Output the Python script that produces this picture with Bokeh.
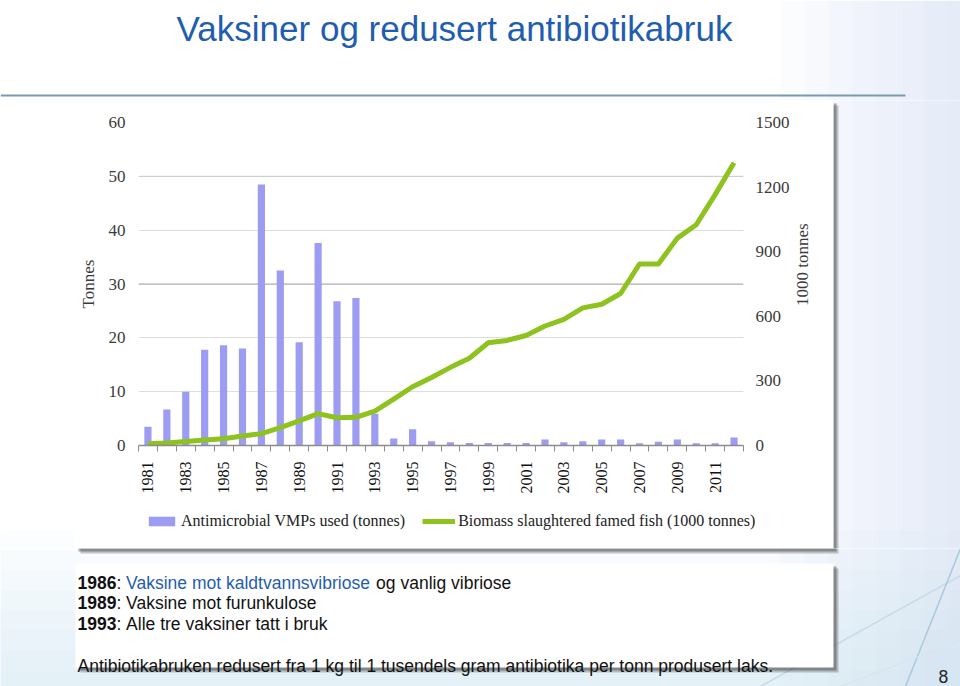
from math import pi
from bokeh.plotting import figure
from bokeh.layouts import column, row
from bokeh.models import (Range1d, LinearAxis, FixedTicker, Legend, LegendItem, Grid, Span)
from bokeh.core.properties import value
from bokeh.embed import file_html
from bokeh.resources import INLINE

# ---------------- data ----------------
years = list(range(1981, 2013))
vmp_tonnes = [3.5, 6.7, 10.0, 17.8, 18.6, 18.0, 48.5, 32.5, 19.2, 37.6, 26.8, 27.4, 5.9,
              1.3, 3.0, 0.8, 0.6, 0.45, 0.45, 0.45, 0.45, 1.1, 0.6, 0.8, 1.1, 1.1,
              0.4, 0.7, 1.1, 0.4, 0.4, 1.5]
biomass_kt = [8, 12, 19, 25, 31, 44, 55, 83, 114, 148, 129, 131, 160, 215, 273, 316,
              363, 405, 477, 488, 511, 555, 586, 639, 656, 706, 843, 843, 963, 1025,
              1165, 1313]
left_ticks = [0, 10, 20, 30, 40, 50, 60]
right_ticks = [0, 300, 600, 900, 1200, 1500]
year_ticks = list(range(1981, 2012, 2))
year_bounds = [y - 0.5 for y in years] + [years[-1] + 0.5]

title_text = "Vaksiner og redusert antibiotikabruk"
bar_label = "Antimicrobial VMPs used (tonnes)"
line_label = "Biomass slaughtered famed fish (1000 tonnes)"
right_title = "1000 tonnes"

# ---------------- styling / layout ----------------
W, H = 960, 686
CARD_L, CARD_T, CARD_R, CARD_B = 75, 100, 833, 548
LEG_T = 500
SPLIT = 792
FL, FR, FT, FB = 137, 743, 122, 445
SANS = "Liberation Sans"
SERIF = "Liberation Serif"
BLUE = "#1F5DB0"
BAR = "#9C9CF2"
GREEN = "#8DC21F"
TINT = "#CFE3F0"
AX_TXT = "#3A3A3A"
tints = ([(780 + i * 24, 0, 960, 686, 0.09) for i in range(8)] +
         [(0, 530 + i * 20, 960, 686, 0.08) for i in range(8)])
deco = [(760, 686, 960, 575, "#C4DCEA"), (905, 686, 960, 548, "#A9C9DD"),
        (840, 686, 960, 640, "#D5E6F0")]


def blank_fig(w, h, xr, yr_):
    f = figure(width=w, height=h, output_backend="svg", toolbar_location=None,
               x_range=xr, y_range=yr_, x_axis_type=None, y_axis_type=None,
               min_border=0, border_fill_color="white",
               background_fill_color="white", outline_line_color=None)
    f.xgrid.visible = False
    f.ygrid.visible = False
    return f


def page_fig(x0, y0, x1, y1):
    f = blank_fig(x1 - x0, y1 - y0, Range1d(x0, x1), Range1d(y1, y0))
    for (l, t, r, b, a) in tints:
        f.quad(left=[l], right=[r], top=[t], bottom=[b], fill_color=TINT,
               fill_alpha=a, line_color=None)
    for (xa, ya, xb_, yb, c) in deco:
        f.segment(x0=[xa], y0=[ya], x1=[xb_], y1=[yb], line_color=c, line_width=1.5)
    return f


def card(f, l, t, r, b):
    f.quad(left=[l + 5], right=[r + 5], top=[t + 5], bottom=[b + 5],
           fill_color="#444444", fill_alpha=0.30, line_color=None)
    f.quad(left=[l + 3], right=[r + 3], top=[t + 3], bottom=[b + 3],
           fill_color="#444444", fill_alpha=0.45, line_color=None)
    f.quad(left=[l], right=[r], top=[t], bottom=[b], fill_color="white",
           line_color=None)


def txt(f, x, y, s, size, color="#111111", font=SANS, style="normal",
        align="left", baseline="alphabetic", angle=0.0):
    f.text(x=[x], y=[y], text=[s], text_font=value(font),
           text_font_size=value(size), text_color=color, angle=angle,
           text_font_style=style, text_align=align, text_baseline=baseline)


# ---------------- top band: title ----------------
top = page_fig(0, 0, W, CARD_T)
txt(top, 454, 28, title_text, "35px", color=BLUE, align="center")
top.segment(x0=[0], y0=[95], x1=[905], y1=[95], line_color="#7C9AAE", line_width=2)

# ---------------- side bands ----------------
left = page_fig(0, CARD_T, CARD_L, CARD_B)
right = page_fig(CARD_R, CARD_T, W, CARD_B)
card(right, CARD_L, CARD_T, CARD_R, CARD_B)

# ---------------- chart ----------------
p = figure(width=SPLIT - CARD_L, height=LEG_T - CARD_T, output_backend="svg",
           toolbar_location=None,
           x_range=Range1d(1980.5, 2012.5), y_range=Range1d(0, 60),
           x_axis_type=None, y_axis_type=None,
           min_border_left=FL - CARD_L, min_border_right=SPLIT - FR,
           min_border_top=FT - CARD_T, min_border_bottom=LEG_T - FB,
           border_fill_color="white", background_fill_color="white",
           outline_line_color=None)
p.extra_y_ranges = {"bio": Range1d(0, 1500)}

grid = Grid(dimension=1, ticker=FixedTicker(ticks=left_ticks[1:]),
            grid_line_color="#DEDEDE", grid_line_width=1)
p.add_layout(grid)
p.add_layout(Span(location=30, dimension="width", line_color="#A8A8A8",
                  line_width=1, level="underlay"))
p.add_layout(Span(location=50, dimension="width", line_color="#CACACA",
                  line_width=1, level="underlay"))

bars = p.vbar(x=years, top=vmp_tonnes, width=0.38, fill_color=BAR, line_color=None)
line = p.line(x=years, y=biomass_kt, y_range_name="bio", line_color=GREEN,
              line_width=5, line_join="round")

yl = LinearAxis(ticker=FixedTicker(ticks=left_ticks), axis_label="Tonnes",
                axis_line_color=None, major_tick_line_color=None,
                major_tick_out=0, major_tick_in=0,
                minor_tick_line_color=None, minor_tick_out=0, minor_tick_in=0,
                major_label_standoff=13, axis_label_standoff=8,
                major_label_text_font=SERIF, major_label_text_font_size="17px",
                major_label_text_color=AX_TXT,
                axis_label_text_font=SERIF, axis_label_text_font_size="17px",
                axis_label_text_font_style="normal", axis_label_text_color=AX_TXT)
p.add_layout(yl, "left")

yr = LinearAxis(y_range_name="bio", ticker=FixedTicker(ticks=right_ticks),
                axis_line_color=None, major_tick_line_color=None,
                major_tick_out=0, major_tick_in=0,
                minor_tick_line_color=None, minor_tick_out=0, minor_tick_in=0,
                major_label_standoff=12,
                major_label_text_font=SERIF, major_label_text_font_size="17px",
                major_label_text_color=AX_TXT)
p.add_layout(yr, "right")

xb = LinearAxis(ticker=FixedTicker(ticks=year_ticks, minor_ticks=year_bounds),
                axis_line_color="#8C8C8C", axis_line_width=1.5,
                major_tick_line_color=None, major_tick_out=0, major_tick_in=0,
                minor_tick_line_color="#8C8C8C", minor_tick_out=6, minor_tick_in=0,
                major_label_orientation=pi / 2, major_label_standoff=10,
                major_label_text_font=SERIF, major_label_text_font_size="16px",
                major_label_text_color="#111111")
p.add_layout(xb, "below")

# right axis title (reads bottom-to-top, as in the original)
rl = blank_fig(CARD_R - SPLIT, LEG_T - CARD_T, Range1d(SPLIT, CARD_R),
               Range1d(LEG_T, CARD_T))
txt(rl, 802, 276, right_title, "17px", color=AX_TXT, font=SERIF,
    align="center", baseline="middle", angle=pi / 2)

# ---------------- legend strip (inside the chart card) ----------------
lg = blank_fig(CARD_R - CARD_L, CARD_B - LEG_T, Range1d(0, 1), Range1d(0, 1))
key_bar = lg.vbar(x=years, top=vmp_tonnes, width=0.38, fill_color=BAR, line_color=None)
key_line = lg.line(x=years, y=biomass_kt, line_color=GREEN, line_width=5)
legend = Legend(items=[LegendItem(label=bar_label, renderers=[key_bar]),
                       LegendItem(label=line_label, renderers=[key_line])],
                location=(70, 18), orientation="horizontal",
                glyph_width=33, glyph_height=12, label_standoff=3, spacing=17,
                padding=0, margin=0, border_line_color=None,
                background_fill_alpha=0, label_text_font=SERIF,
                label_text_font_size="16px", label_text_color="#222222")
lg.add_layout(legend)

# ---------------- bottom band: text card ----------------
bot = page_fig(0, CARD_B, W, H)
card(bot, CARD_L, CARD_T, CARD_R, CARD_B)
card(bot, 75, 563, 833, 667)
FS = "17.5px"
txt(bot, 77, 582, "1986", FS, style="bold")
txt(bot, 115.9, 582, ":", FS)
txt(bot, 125.6, 582, "Vaksine mot kaldtvannsvibriose", FS, color=BLUE)
txt(bot, 375.6, 582, "og vanlig vibriose", FS)
txt(bot, 77, 602, "1989", FS, style="bold")
txt(bot, 115.9, 602, ":", FS)
txt(bot, 125.6, 602, "Vaksine mot furunkulose", FS)
txt(bot, 77, 623, "1993", FS, style="bold")
txt(bot, 115.9, 623, ":", FS)
txt(bot, 125.6, 623, "Alle tre vaksiner tatt i bruk", FS)
txt(bot, 77, 665, "Antibiotikabruken redusert fra 1 kg til 1 tusendels gram antibiotika per tonn produsert laks.", FS)
txt(bot, 938, 676, "8", FS, color="#222222")

chart_card = column(row(p, rl, spacing=0), lg, spacing=0)
middle = row(left, chart_card, right, spacing=0)
page = column(top, middle, bot, spacing=0)
open("out.html", "w").write(file_html(page, INLINE))
